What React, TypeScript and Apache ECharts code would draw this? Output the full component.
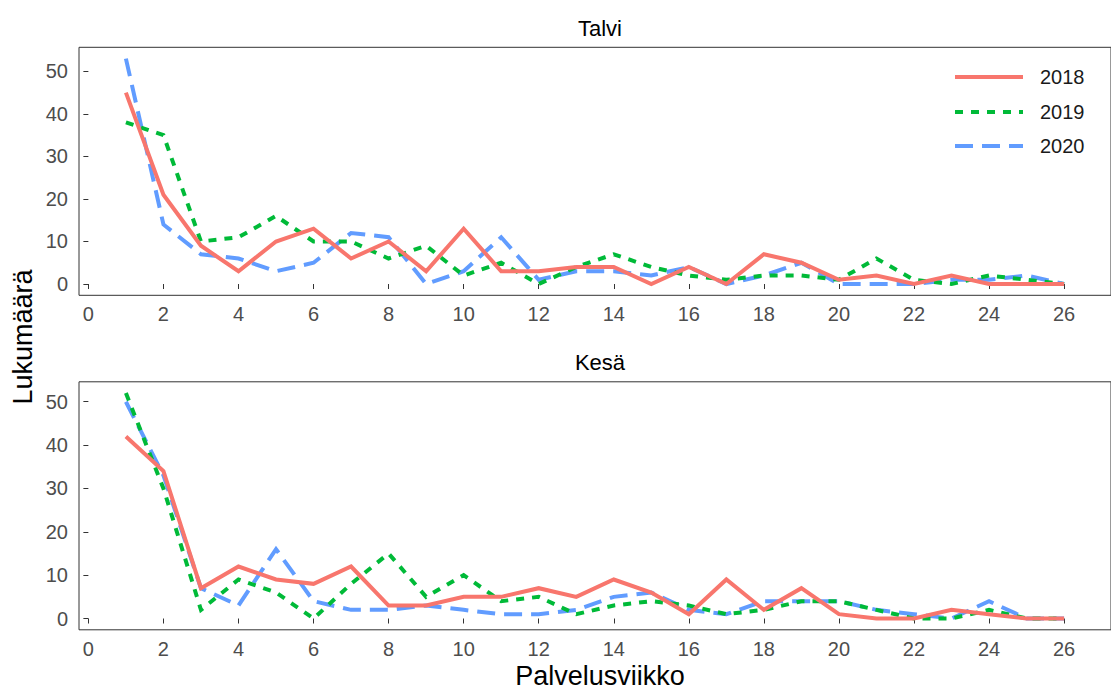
import React, { useEffect, useRef } from "react";
import * as echarts from "echarts";

const weeks = [1,2,3,4,5,6,7,8,9,10,11,12,13,14,15,16,17,18,19,20,21,22,23,24,25,26];
const years = ["2018", "2019", "2020"];
const panelTitles = ["Talvi", "Kesä"];

const talvi2018 = [45,21,9,3,10,13,6,10,3,13,3,3,4,4,0,4,0,7,5,1,2,0,2,0,0,0];
const talvi2019 = [38,35,10,11,16,10,10,6,9,2,5,0,4,7,4,2,1,2,2,1,6,1,0,2,1,0];
const talvi2020 = [53,14,7,6,3,5,12,11,0,3,11,1,3,3,2,4,0,2,5,0,0,0,1,1,2,0];

const kesa2018 = [42,34,7,12,9,8,12,3,3,5,5,7,5,9,6,1,9,2,7,1,0,0,2,1,0,0];
const kesa2019 = [52,30,2,9,6,0,8,15,5,10,4,5,1,3,4,3,1,2,4,4,2,0,0,2,0,0];
const kesa2020 = [50,33,7,3,16,4,2,2,3,2,1,1,2,5,6,2,1,4,4,4,2,1,0,4,0,0];

const xTicks = [0,2,4,6,8,10,12,14,16,18,20,22,24,26];
const yTicks = [0,10,20,30,40,50];

const colors = ["#F8766D", "#00BA38", "#619CFF"];
const dashes: any[] = ["solid", [8, 8], [18, 9]];
const FONT = "'Liberation Sans', Arial, sans-serif";

export default function App() {
  const ref = useRef<HTMLDivElement>(null);
  useEffect(() => {
    if (!ref.current) return;
    const chart = echarts.init(ref.current, undefined, { renderer: "svg" });
    const panels = [
      [talvi2018, talvi2019, talvi2020],
      [kesa2018, kesa2019, kesa2020],
    ];
    const grids = [
      { left: 79, right: -10, top: 47.3, height: 248 },
      { left: 79, right: -10, top: 381.8, height: 248 },
    ].map((g) => ({ ...g, show: true, borderColor: "#333333", borderWidth: 1, backgroundColor: "transparent" }));

    const yRanges = [
      [-2.65, 55.65],
      [-2.6, 54.6],
    ];

    const xAxes = [0, 1].map((i) => ({
      type: "value",
      gridIndex: i,
      min: -0.25,
      max: 27.25,
      axisLine: { show: false },
      splitLine: { show: false },
      axisTick: { show: true, length: 5, lineStyle: { color: "#333333" }, customValues: xTicks },
      axisLabel: { customValues: xTicks, fontSize: 20, color: "#4D4D4D", margin: 9, fontFamily: FONT },
    }));
    const yAxes = [0, 1].map((i) => ({
      type: "value",
      gridIndex: i,
      min: yRanges[i][0],
      max: yRanges[i][1],
      axisLine: { show: false },
      splitLine: { show: false },
      axisTick: { show: true, length: 5, lineStyle: { color: "#333333" }, customValues: yTicks },
      axisLabel: { customValues: yTicks, fontSize: 20, color: "#4D4D4D", margin: 11, fontFamily: FONT },
    }));

    const series: any[] = [];
    panels.forEach((panel, pi) => {
      panel.forEach((vals, yi) => {
        series.push({
          type: "line",
          name: years[yi],
          xAxisIndex: pi,
          yAxisIndex: pi,
          data: weeks.map((w, k) => [w, vals[k]]),
          symbol: "none",
          showSymbol: false,
          smooth: false,
          lineStyle: { color: colors[yi], width: 4, type: dashes[yi], cap: "butt", join: "miter" },
          itemStyle: { color: colors[yi] },
          z: 3 - yi,
        });
      });
    });

    const rowCenters = [77, 112, 146];
    const legends = years.map((y, i) => ({
      data: [y],
      orient: "vertical",
      left: 953,
      top: rowCenters[i] - 10,
      padding: 0,
      itemWidth: 68,
      itemHeight: 20,
      selectedMode: false,
      itemStyle: { opacity: 0, color: "transparent", borderWidth: 0 },
      lineStyle: { width: 4, color: colors[i], type: dashes[i], cap: "butt" },
      textStyle: { fontSize: 20, color: "#1a1a1a", fontFamily: FONT, lineHeight: 20, padding: [0, 0, 0, 12] },
    }));

    const txt = (text: string, x: number, y: number, size: number, rotation = 0) => ({
      type: "text",
      x,
      y,
      rotation,
      style: {
        text,
        fontSize: size,
        fontFamily: FONT,
        lineHeight: size,
        fill: "#000",
        textAlign: "center",
        textVerticalAlign: "middle",
      },
    });

    chart.setOption({
      animation: false,
      grid: grids,
      xAxis: xAxes,
      yAxis: yAxes,
      legend: legends,
      series,
      graphic: [
        txt(panelTitles[0], 600, 28, 22),
        txt(panelTitles[1], 600, 362, 22),
        txt("Palvelusviikko", 600, 676, 27),
        txt("Lukumäärä", 23, 337, 27, Math.PI / 2),
      ],
    });
    return () => chart.dispose();
  }, []);
  return <div ref={ref} style={{ position: "absolute", left: 0, top: 0, width: 1111, height: 690 }} />;
}
